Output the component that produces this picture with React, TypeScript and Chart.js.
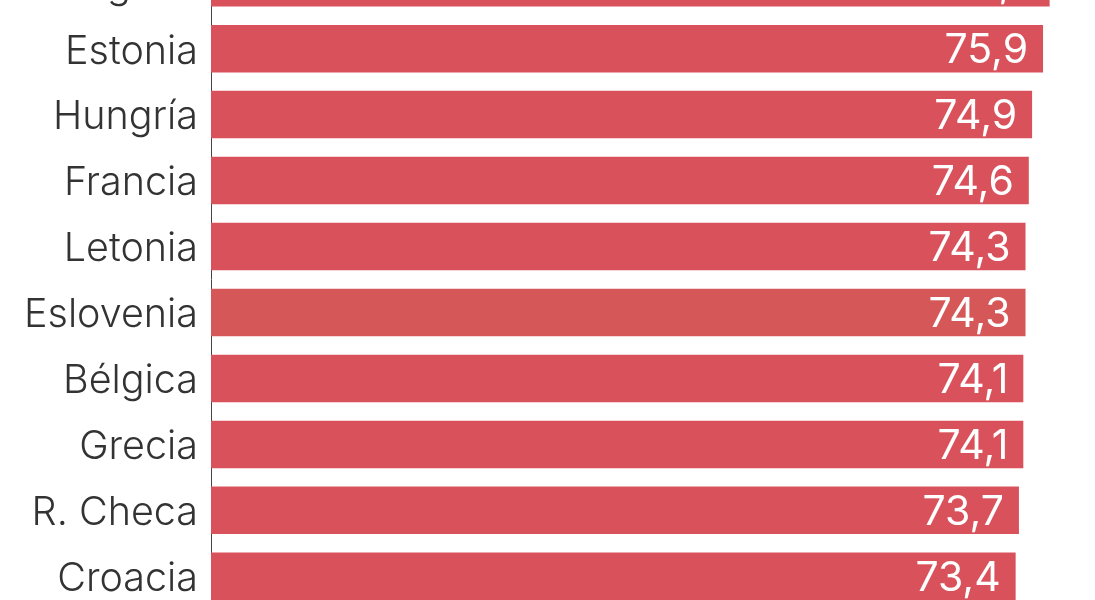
import { useRef, useEffect } from 'react'
import { Chart, registerables } from 'chart.js'
import type { Plugin } from 'chart.js'

Chart.register(...registerables)

// top row is cut off in the reference, its name and value are a guess
const countries = ['Bulgaria', 'Estonia', 'Hungría', 'Francia', 'Letonia', 'Eslovenia', 'Bélgica', 'Grecia', 'R. Checa', 'Croacia']
const values = [76.5, 75.9, 74.9, 74.6, 74.3, 74.3, 74.1, 74.1, 73.7, 73.4]

const BAR = '#d9525b'
const BAR_ALT = '#d55758'

const valueLabels: Plugin<'bar'> = {
  id: 'valueLabels',
  afterDatasetsDraw(chart) {
    const { ctx } = chart
    const meta = chart.getDatasetMeta(0)
    ctx.save()
    ctx.font = '400 41px Inter, "Noto Sans", sans-serif'
    ctx.fillStyle = '#ffffff'
    ctx.textAlign = 'right'
    ctx.textBaseline = 'middle'
    meta.data.forEach((bar, i) => {
      const txt = values[i].toFixed(1).replace('.', ',')
      ctx.fillText(txt, bar.x - 15, bar.y + 2)
    })
    ctx.restore()
  },
}

export default function App() {
  const canvasRef = useRef<HTMLCanvasElement>(null)
  const chartRef = useRef<Chart | null>(null)

  useEffect(() => {
    if (!canvasRef.current) return
    if (chartRef.current) chartRef.current.destroy()

    chartRef.current = new Chart(canvasRef.current, {
      type: 'bar',
      data: {
        labels: countries,
        datasets: [{
          data: values,
          backgroundColor: countries.map(c => (c === 'Eslovenia' ? BAR_ALT : BAR)),
          borderWidth: 0,
          categoryPercentage: 1,
          barPercentage: 0.72,
        }],
      },
      options: {
        indexAxis: 'y',
        animation: false,
        responsive: true,
        maintainAspectRatio: false,
        layout: { padding: { left: 0, right: 7, top: 0, bottom: 0 } },
        plugins: {
          legend: { display: false },
          tooltip: { enabled: false },
        },
        scales: {
          x: { display: false, min: 0, max: 80 },
          y: {
            grid: { display: false, drawTicks: false },
            border: { display: true, color: '#444444', width: 1 },
            ticks: {
              color: '#333333',
              padding: 13,
              labelOffset: 3,
              font: { family: 'Inter, "Noto Sans", sans-serif', size: 39.5, weight: 300 },
            },
            afterFit: scale => { scale.width = 211 },
          },
        },
      },
      plugins: [valueLabels],
    })

    return () => { chartRef.current?.destroy() }
  }, [])

  // the reference is a crop: the chart runs past the top and bottom of the frame
  return (
    <div style={{ position: 'fixed', top: 0, left: 0, width: 1095, height: 600, overflow: 'hidden', background: '#fff' }}>
      <div style={{ position: 'absolute', top: -87, left: 0, width: 1095, height: 733 }}>
        <canvas ref={canvasRef} />
      </div>
    </div>
  )
}
